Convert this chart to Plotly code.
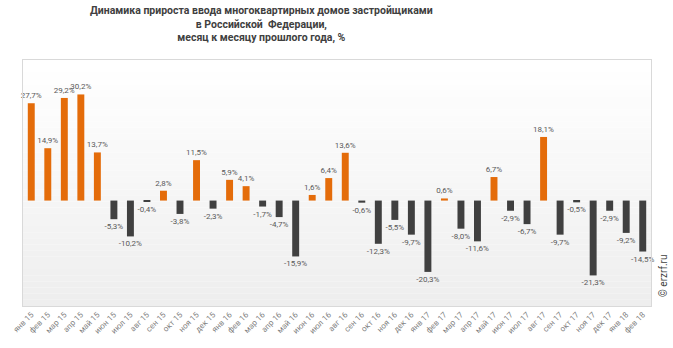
import plotly.graph_objects as go

months = ["янв 15", "фев 15", "мар 15", "апр 15", "май 15", "июн 15", "июл 15", "авг 15",
          "сен 15", "окт 15", "ноя 15", "дек 15",
          "янв 16", "фев 16", "мар 16", "апр 16", "май 16", "июн 16", "июл 16", "авг 16",
          "сен 16", "окт 16", "ноя 16", "дек 16",
          "янв 17", "фев 17", "мар 17", "апр 17", "май 17", "июн 17", "июл 17", "авг 17",
          "сен 17", "окт 17", "ноя 17", "дек 17",
          "янв 18", "фев 18"]
values = [27.7, 14.9, 29.2, 30.2, 13.7, -5.3, -10.2, -0.4, 2.8, -3.8, 11.5, -2.3,
          5.9, 4.1, -1.7, -4.7, -15.9, 1.6, 6.4, 13.6, -0.6, -12.3, -5.5, -9.7,
          -20.3, 0.6, -8.0, -11.6, 6.7, -2.9, -6.7, 18.1, -9.7, -0.5, -21.3, -2.9,
          -9.2, -14.5]

Y_RANGE = [-30, 40]
ORANGE = "#E46C0A"
DARK = "#404040"
BORDER = "#d9d9d9"
FONT = "Roboto, Liberation Sans, Arial, sans-serif"

labels = [f"{v:.1f}%".replace(".", ",") for v in values]
colors = [ORANGE if v >= 0 else DARK for v in values]

fig = go.Figure()
fig.add_trace(go.Bar(
    x=months, y=values, marker=dict(color=colors, line=dict(width=0)),
    width=0.42, text=labels, textposition="outside",
    textfont=dict(size=8, color="#595959", family=FONT),
    cliponaxis=False, constraintext="none", showlegend=False, hoverinfo="skip",
))

# vertical gradient background of plot area (decoration)
n_bands = 40
shapes = []
for i in range(n_bands):
    t = i / (n_bands - 1)
    c = int(round(255 - (255 - 238) * t))
    shapes.append(dict(type="rect", xref="x domain", yref="y domain",
                       x0=0, x1=1, y0=1 - (i + 1) / n_bands, y1=1 - i / n_bands,
                       fillcolor=f"rgb({c},{c},{c})", line=dict(width=0), layer="below"))
fig.update_layout(shapes=shapes)

zero_pos = (0 - Y_RANGE[0]) / (Y_RANGE[1] - Y_RANGE[0])
plot_h = 348 - 60 - 40
plot_w = 673 - 12 - 22

fig.update_layout(
    width=673, height=348,
    margin=dict(l=12, r=22, t=60, b=40),
    paper_bgcolor="white", plot_bgcolor="white",
    font=dict(family=FONT, color="#595959"),
    bargap=0.58,
    xaxis=dict(
        type="category", categoryorder="array", categoryarray=months,
        range=[-0.5, len(months) - 0.5],
        showline=True, linecolor=BORDER, linewidth=1, mirror=True,
        ticks="", tickangle=-45, tickfont=dict(size=8, color="#7f7f7f", family=FONT),
        showgrid=False,
    ),
    xaxis2=dict(
        overlaying="x", anchor="free", position=zero_pos,
        range=[-0.5, len(months) - 0.5],
        tickmode="array", tickvals=[i + 0.5 for i in range(len(months) - 1)],
        ticks="outside", ticklen=3, tickcolor="#bfbfbf",
        showline=True, linecolor="#bfbfbf", linewidth=1,
        showticklabels=False, showgrid=False, zeroline=False,
    ),
    yaxis=dict(
        range=Y_RANGE, showline=True, linecolor=BORDER, linewidth=1, mirror=True,
        showticklabels=False, ticks="", showgrid=False, zeroline=False,
    ),
    annotations=[
        dict(
            text="<b>Динамика прироста ввода многоквартирных домов застройщиками<br>"
                 "в Российской  Федерации,<br>месяц к месяцу прошлого года, %</b>",
            xref="paper", yref="paper",
            x=(255 - 12) / plot_w, xanchor="center",
            y=1 + 58 / plot_h, yanchor="top", showarrow=False, align="center",
            font=dict(size=10.5, color="#404040", family=FONT),
        ),
        dict(
            text="© erzrf.ru", xref="paper", yref="paper", x=1, xanchor="left", xshift=5,
            y=0.12, yanchor="middle", textangle=-90, showarrow=False,
            font=dict(size=10, color="#404040", family=FONT),
        ),
    ],
)

fig.write_html("out.html")
